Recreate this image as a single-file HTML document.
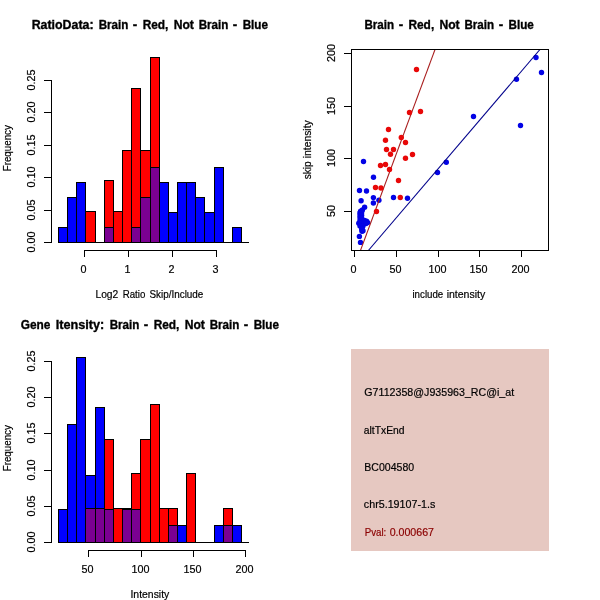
<!DOCTYPE html>
<html lang="en">
<head>
<meta charset="utf-8">
<title>Brain vs Not Brain</title>
<style>
html,body{margin:0;padding:0;background:#fff;}
body{width:600px;height:600px;overflow:hidden;}
svg{display:block;}
text{font-family:"Liberation Sans",sans-serif;fill:#000;stroke:#000;stroke-width:0.2px;}
text.b{stroke-width:0.35px;}
rect{shape-rendering:crispEdges;}
</style>
</head>
<body>
<svg width="600" height="600" viewBox="0 0 600 600">
<defs><clipPath id="c2"><rect x="351" y="49" width="198" height="202"/></clipPath></defs>
<rect x="0" y="0" width="600" height="600" fill="#fff"/>
<text y="28.70" font-size="13" font-weight="bold" class="b"><tspan x="31.65" textLength="61.91" lengthAdjust="spacingAndGlyphs">RatioData:</tspan> <tspan x="98.65" textLength="29.68" lengthAdjust="spacingAndGlyphs">Brain</tspan> <tspan x="132.85" textLength="4.45" lengthAdjust="spacingAndGlyphs">-</tspan> <tspan x="142.65" textLength="25.74" lengthAdjust="spacingAndGlyphs">Red,</tspan> <tspan x="173.65" textLength="20.23" lengthAdjust="spacingAndGlyphs">Not</tspan> <tspan x="198.65" textLength="29.68" lengthAdjust="spacingAndGlyphs">Brain</tspan> <tspan x="232.85" textLength="4.45" lengthAdjust="spacingAndGlyphs">-</tspan> <tspan x="242.65" textLength="25.34" lengthAdjust="spacingAndGlyphs">Blue</tspan></text>
<rect x="58" y="242" width="191" height="1" fill="#000"/>
<rect x="58" y="227" width="10" height="16" fill="#000"/>
<rect x="59" y="228" width="8" height="14" fill="#0000ff"/>
<rect x="67" y="197" width="10" height="46" fill="#000"/>
<rect x="68" y="198" width="8" height="44" fill="#0000ff"/>
<rect x="76" y="182" width="10" height="61" fill="#000"/>
<rect x="77" y="183" width="8" height="59" fill="#0000ff"/>
<rect x="104" y="227" width="10" height="16" fill="#000"/>
<rect x="105" y="228" width="8" height="14" fill="#0000ff"/>
<rect x="131" y="227" width="10" height="16" fill="#000"/>
<rect x="132" y="228" width="8" height="14" fill="#0000ff"/>
<rect x="140" y="197" width="11" height="46" fill="#000"/>
<rect x="141" y="198" width="9" height="44" fill="#0000ff"/>
<rect x="150" y="167" width="10" height="76" fill="#000"/>
<rect x="151" y="168" width="8" height="74" fill="#0000ff"/>
<rect x="159" y="182" width="10" height="61" fill="#000"/>
<rect x="160" y="183" width="8" height="59" fill="#0000ff"/>
<rect x="168" y="212" width="10" height="31" fill="#000"/>
<rect x="169" y="213" width="8" height="29" fill="#0000ff"/>
<rect x="177" y="182" width="10" height="61" fill="#000"/>
<rect x="178" y="183" width="8" height="59" fill="#0000ff"/>
<rect x="186" y="182" width="10" height="61" fill="#000"/>
<rect x="187" y="183" width="8" height="59" fill="#0000ff"/>
<rect x="195" y="197" width="10" height="46" fill="#000"/>
<rect x="196" y="198" width="8" height="44" fill="#0000ff"/>
<rect x="204" y="212" width="11" height="31" fill="#000"/>
<rect x="205" y="213" width="9" height="29" fill="#0000ff"/>
<rect x="214" y="167" width="10" height="76" fill="#000"/>
<rect x="215" y="168" width="8" height="74" fill="#0000ff"/>
<rect x="232" y="227" width="10" height="16" fill="#000"/>
<rect x="233" y="228" width="8" height="14" fill="#0000ff"/>
<rect x="85" y="211" width="11" height="32" fill="#000"/>
<rect x="86" y="212" width="9" height="30" fill="#ff0000"/>
<rect x="104" y="180" width="10" height="63" fill="#000"/>
<rect x="105" y="181" width="8" height="61" fill="#ff0000"/>
<rect x="113" y="211" width="10" height="32" fill="#000"/>
<rect x="114" y="212" width="8" height="30" fill="#ff0000"/>
<rect x="122" y="150" width="10" height="93" fill="#000"/>
<rect x="123" y="151" width="8" height="91" fill="#ff0000"/>
<rect x="131" y="88" width="10" height="155" fill="#000"/>
<rect x="132" y="89" width="8" height="153" fill="#ff0000"/>
<rect x="140" y="150" width="11" height="93" fill="#000"/>
<rect x="141" y="151" width="9" height="91" fill="#ff0000"/>
<rect x="150" y="57" width="10" height="186" fill="#000"/>
<rect x="151" y="58" width="8" height="184" fill="#ff0000"/>
<rect x="104" y="227" width="10" height="16" fill="#000"/>
<rect x="105" y="228" width="8" height="14" fill="#7b0092"/>
<rect x="131" y="227" width="10" height="16" fill="#000"/>
<rect x="132" y="228" width="8" height="14" fill="#7b0092"/>
<rect x="140" y="197" width="11" height="46" fill="#000"/>
<rect x="141" y="198" width="9" height="44" fill="#7b0092"/>
<rect x="150" y="167" width="10" height="76" fill="#000"/>
<rect x="151" y="168" width="8" height="74" fill="#7b0092"/>
<rect x="51" y="80" width="1" height="163" fill="#000"/>
<rect x="44" y="80" width="8" height="1" fill="#000"/>
<text transform="translate(35.00,90.60) rotate(-90)" x="0" y="0" textLength="21.00" lengthAdjust="spacingAndGlyphs" font-size="11.5">0.25</text>
<rect x="44" y="112" width="8" height="1" fill="#000"/>
<text transform="translate(35.00,122.60) rotate(-90)" x="0" y="0" textLength="21.00" lengthAdjust="spacingAndGlyphs" font-size="11.5">0.20</text>
<rect x="44" y="145" width="8" height="1" fill="#000"/>
<text transform="translate(35.00,155.60) rotate(-90)" x="0" y="0" textLength="21.00" lengthAdjust="spacingAndGlyphs" font-size="11.5">0.15</text>
<rect x="44" y="177" width="8" height="1" fill="#000"/>
<text transform="translate(35.00,187.60) rotate(-90)" x="0" y="0" textLength="21.00" lengthAdjust="spacingAndGlyphs" font-size="11.5">0.10</text>
<rect x="44" y="210" width="8" height="1" fill="#000"/>
<text transform="translate(35.00,220.60) rotate(-90)" x="0" y="0" textLength="21.00" lengthAdjust="spacingAndGlyphs" font-size="11.5">0.05</text>
<rect x="44" y="242" width="8" height="1" fill="#000"/>
<text transform="translate(35.00,252.60) rotate(-90)" x="0" y="0" textLength="21.00" lengthAdjust="spacingAndGlyphs" font-size="11.5">0.00</text>
<rect x="84" y="250" width="133" height="1" fill="#000"/>
<rect x="84" y="250" width="1" height="7" fill="#000"/>
<text x="80.50" y="273.00" textLength="6.00" lengthAdjust="spacingAndGlyphs" font-size="11.5">0</text>
<rect x="128" y="250" width="1" height="7" fill="#000"/>
<text x="124.50" y="273.00" textLength="6.00" lengthAdjust="spacingAndGlyphs" font-size="11.5">1</text>
<rect x="172" y="250" width="1" height="7" fill="#000"/>
<text x="168.50" y="273.00" textLength="6.00" lengthAdjust="spacingAndGlyphs" font-size="11.5">2</text>
<rect x="216" y="250" width="1" height="7" fill="#000"/>
<text x="212.50" y="273.00" textLength="6.00" lengthAdjust="spacingAndGlyphs" font-size="11.5">3</text>
<text transform="translate(11.00,0) rotate(-90)" y="0" font-size="11.5"><tspan x="-171.35" textLength="46.27" lengthAdjust="spacingAndGlyphs">Frequency</tspan></text>
<text y="298.00" font-size="11.5"><tspan x="95.45" textLength="22.87" lengthAdjust="spacingAndGlyphs">Log2</tspan> <tspan x="122.65" textLength="22.68" lengthAdjust="spacingAndGlyphs">Ratio</tspan> <tspan x="149.45" textLength="53.92" lengthAdjust="spacingAndGlyphs">Skip/Include</tspan></text>
<text y="28.70" font-size="13" font-weight="bold" class="b"><tspan x="364.45" textLength="29.68" lengthAdjust="spacingAndGlyphs">Brain</tspan> <tspan x="398.65" textLength="4.45" lengthAdjust="spacingAndGlyphs">-</tspan> <tspan x="408.45" textLength="25.74" lengthAdjust="spacingAndGlyphs">Red,</tspan> <tspan x="439.45" textLength="20.23" lengthAdjust="spacingAndGlyphs">Not</tspan> <tspan x="464.45" textLength="29.68" lengthAdjust="spacingAndGlyphs">Brain</tspan> <tspan x="498.65" textLength="4.45" lengthAdjust="spacingAndGlyphs">-</tspan> <tspan x="508.45" textLength="25.34" lengthAdjust="spacingAndGlyphs">Blue</tspan></text>
<circle cx="536" cy="57.5" r="2.7" fill="#0303e6"/>
<circle cx="541.5" cy="72.5" r="2.7" fill="#0303e6"/>
<circle cx="516.5" cy="79.3" r="2.7" fill="#0303e6"/>
<circle cx="473.5" cy="116.5" r="2.7" fill="#0303e6"/>
<circle cx="520.5" cy="125.5" r="2.7" fill="#0303e6"/>
<circle cx="446.3" cy="162.2" r="2.7" fill="#0303e6"/>
<circle cx="437.5" cy="172.5" r="2.7" fill="#0303e6"/>
<circle cx="407.5" cy="198.3" r="2.7" fill="#0303e6"/>
<circle cx="393.5" cy="197.5" r="2.7" fill="#0303e6"/>
<circle cx="363.5" cy="161.5" r="2.7" fill="#0303e6"/>
<circle cx="373.5" cy="177.3" r="2.7" fill="#0303e6"/>
<circle cx="359.5" cy="190.5" r="2.7" fill="#0303e6"/>
<circle cx="366.5" cy="191" r="2.7" fill="#0303e6"/>
<circle cx="373.4" cy="197.6" r="2.7" fill="#0303e6"/>
<circle cx="361.1" cy="200.8" r="2.7" fill="#0303e6"/>
<circle cx="373.4" cy="203" r="2.7" fill="#0303e6"/>
<circle cx="378.9" cy="200.3" r="2.7" fill="#0303e6"/>
<circle cx="364.6" cy="207.3" r="2.7" fill="#0303e6"/>
<circle cx="359.4" cy="236.4" r="2.7" fill="#0303e6"/>
<circle cx="360.5" cy="242.4" r="2.7" fill="#0303e6"/>
<circle cx="362.4" cy="210" r="2.7" fill="#0303e6"/>
<circle cx="360.6" cy="211.3" r="2.7" fill="#0303e6"/>
<circle cx="360" cy="212.8" r="2.7" fill="#0303e6"/>
<circle cx="361.6" cy="212.8" r="2.7" fill="#0303e6"/>
<circle cx="360" cy="215" r="2.7" fill="#0303e6"/>
<circle cx="361.6" cy="215.3" r="2.7" fill="#0303e6"/>
<circle cx="360" cy="217.5" r="2.7" fill="#0303e6"/>
<circle cx="361.6" cy="218" r="2.7" fill="#0303e6"/>
<circle cx="360" cy="220.5" r="2.7" fill="#0303e6"/>
<circle cx="362" cy="220.5" r="2.7" fill="#0303e6"/>
<circle cx="364.5" cy="220.5" r="2.7" fill="#0303e6"/>
<circle cx="366.6" cy="221.3" r="2.7" fill="#0303e6"/>
<circle cx="367.7" cy="222.6" r="2.7" fill="#0303e6"/>
<circle cx="358.8" cy="223.3" r="2.7" fill="#0303e6"/>
<circle cx="361" cy="223.5" r="2.7" fill="#0303e6"/>
<circle cx="364" cy="223.3" r="2.7" fill="#0303e6"/>
<circle cx="366" cy="223.5" r="2.7" fill="#0303e6"/>
<circle cx="360" cy="226" r="2.7" fill="#0303e6"/>
<circle cx="363" cy="226" r="2.7" fill="#0303e6"/>
<circle cx="362" cy="228.5" r="2.7" fill="#0303e6"/>
<circle cx="363" cy="230.8" r="2.7" fill="#0303e6"/>
<circle cx="362" cy="231.2" r="2.7" fill="#0303e6"/>
<circle cx="361.8" cy="229.5" r="2.7" fill="#0303e6"/>
<g clip-path="url(#c2)">
<line x1="540.4" y1="49" x2="367.9" y2="251" stroke="#00008b" stroke-width="1.05"/>
<line x1="435.2" y1="49" x2="360.3" y2="251" stroke="#a81c1c" stroke-width="1.05"/>
</g>
<circle cx="416.5" cy="69.5" r="2.7" fill="#e80808"/>
<circle cx="409.5" cy="112.5" r="2.7" fill="#e80808"/>
<circle cx="420.5" cy="111.5" r="2.7" fill="#e80808"/>
<circle cx="388.5" cy="129.5" r="2.7" fill="#e80808"/>
<circle cx="401.3" cy="137.5" r="2.7" fill="#e80808"/>
<circle cx="385.5" cy="140.3" r="2.7" fill="#e80808"/>
<circle cx="405.5" cy="142.5" r="2.7" fill="#e80808"/>
<circle cx="386.5" cy="149.5" r="2.7" fill="#e80808"/>
<circle cx="393.5" cy="149.5" r="2.7" fill="#e80808"/>
<circle cx="390.5" cy="154.3" r="2.7" fill="#e80808"/>
<circle cx="412.5" cy="154.5" r="2.7" fill="#e80808"/>
<circle cx="405.5" cy="158.3" r="2.7" fill="#e80808"/>
<circle cx="380.5" cy="165.5" r="2.7" fill="#e80808"/>
<circle cx="385.5" cy="164.5" r="2.7" fill="#e80808"/>
<circle cx="389.5" cy="169.5" r="2.7" fill="#e80808"/>
<circle cx="398.5" cy="180.5" r="2.7" fill="#e80808"/>
<circle cx="375.5" cy="187.5" r="2.7" fill="#e80808"/>
<circle cx="381" cy="188" r="2.7" fill="#e80808"/>
<circle cx="400.3" cy="197.5" r="2.7" fill="#e80808"/>
<circle cx="376.5" cy="211.5" r="2.7" fill="#e80808"/>
<rect x="351" y="49" width="198" height="1" fill="#000"/>
<rect x="351" y="250" width="198" height="1" fill="#000"/>
<rect x="351" y="49" width="1" height="202" fill="#000"/>
<rect x="548" y="49" width="1" height="202" fill="#000"/>
<rect x="344" y="53" width="8" height="1" fill="#000"/>
<text transform="translate(335.00,62.10) rotate(-90)" x="0" y="0" textLength="18.00" lengthAdjust="spacingAndGlyphs" font-size="11.5">200</text>
<rect x="344" y="106" width="8" height="1" fill="#000"/>
<text transform="translate(335.00,115.10) rotate(-90)" x="0" y="0" textLength="18.00" lengthAdjust="spacingAndGlyphs" font-size="11.5">150</text>
<rect x="344" y="158" width="8" height="1" fill="#000"/>
<text transform="translate(335.00,167.10) rotate(-90)" x="0" y="0" textLength="18.00" lengthAdjust="spacingAndGlyphs" font-size="11.5">100</text>
<rect x="344" y="211" width="8" height="1" fill="#000"/>
<text transform="translate(335.00,217.10) rotate(-90)" x="0" y="0" textLength="12.00" lengthAdjust="spacingAndGlyphs" font-size="11.5">50</text>
<rect x="354" y="250" width="1" height="7" fill="#000"/>
<text x="350.50" y="273.00" textLength="6.00" lengthAdjust="spacingAndGlyphs" font-size="11.5">0</text>
<rect x="396" y="250" width="1" height="7" fill="#000"/>
<text x="389.50" y="273.00" textLength="12.00" lengthAdjust="spacingAndGlyphs" font-size="11.5">50</text>
<rect x="438" y="250" width="1" height="7" fill="#000"/>
<text x="428.50" y="273.00" textLength="18.00" lengthAdjust="spacingAndGlyphs" font-size="11.5">100</text>
<rect x="479" y="250" width="1" height="7" fill="#000"/>
<text x="469.50" y="273.00" textLength="18.00" lengthAdjust="spacingAndGlyphs" font-size="11.5">150</text>
<rect x="521" y="250" width="1" height="7" fill="#000"/>
<text x="511.50" y="273.00" textLength="18.00" lengthAdjust="spacingAndGlyphs" font-size="11.5">200</text>
<text transform="translate(311.00,0) rotate(-90)" y="0" font-size="11.5"><tspan x="-179.25" textLength="17.86" lengthAdjust="spacingAndGlyphs">skip</tspan> <tspan x="-158.25" textLength="37.95" lengthAdjust="spacingAndGlyphs">intensity</tspan></text>
<text y="298.00" font-size="11.5"><tspan x="412.45" textLength="30.85" lengthAdjust="spacingAndGlyphs">include</tspan> <tspan x="446.65" textLength="38.64" lengthAdjust="spacingAndGlyphs">intensity</tspan></text>
<text y="328.70" font-size="13" font-weight="bold" class="b"><tspan x="20.65" textLength="29.71" lengthAdjust="spacingAndGlyphs">Gene</tspan> <tspan x="55.65" textLength="48.67" lengthAdjust="spacingAndGlyphs">Itensity:</tspan> <tspan x="109.65" textLength="29.68" lengthAdjust="spacingAndGlyphs">Brain</tspan> <tspan x="143.85" textLength="4.45" lengthAdjust="spacingAndGlyphs">-</tspan> <tspan x="153.65" textLength="25.74" lengthAdjust="spacingAndGlyphs">Red,</tspan> <tspan x="184.65" textLength="20.23" lengthAdjust="spacingAndGlyphs">Not</tspan> <tspan x="209.65" textLength="29.68" lengthAdjust="spacingAndGlyphs">Brain</tspan> <tspan x="243.85" textLength="4.45" lengthAdjust="spacingAndGlyphs">-</tspan> <tspan x="253.65" textLength="25.34" lengthAdjust="spacingAndGlyphs">Blue</tspan></text>
<rect x="58" y="542" width="191" height="1" fill="#000"/>
<rect x="58" y="509" width="10" height="34" fill="#000"/>
<rect x="59" y="510" width="8" height="32" fill="#0000ff"/>
<rect x="67" y="424" width="10" height="119" fill="#000"/>
<rect x="68" y="425" width="8" height="117" fill="#0000ff"/>
<rect x="76" y="357" width="10" height="186" fill="#000"/>
<rect x="77" y="358" width="8" height="184" fill="#0000ff"/>
<rect x="85" y="475" width="11" height="68" fill="#000"/>
<rect x="86" y="476" width="9" height="66" fill="#0000ff"/>
<rect x="95" y="407" width="10" height="136" fill="#000"/>
<rect x="96" y="408" width="8" height="134" fill="#0000ff"/>
<rect x="104" y="509" width="10" height="34" fill="#000"/>
<rect x="105" y="510" width="8" height="32" fill="#0000ff"/>
<rect x="122" y="509" width="10" height="34" fill="#000"/>
<rect x="123" y="510" width="8" height="32" fill="#0000ff"/>
<rect x="131" y="509" width="10" height="34" fill="#000"/>
<rect x="132" y="510" width="8" height="32" fill="#0000ff"/>
<rect x="168" y="525" width="10" height="18" fill="#000"/>
<rect x="169" y="526" width="8" height="16" fill="#0000ff"/>
<rect x="177" y="525" width="10" height="18" fill="#000"/>
<rect x="178" y="526" width="8" height="16" fill="#0000ff"/>
<rect x="214" y="525" width="10" height="18" fill="#000"/>
<rect x="215" y="526" width="8" height="16" fill="#0000ff"/>
<rect x="223" y="525" width="10" height="18" fill="#000"/>
<rect x="224" y="526" width="8" height="16" fill="#0000ff"/>
<rect x="232" y="525" width="10" height="18" fill="#000"/>
<rect x="233" y="526" width="8" height="16" fill="#0000ff"/>
<rect x="85" y="508" width="11" height="35" fill="#000"/>
<rect x="86" y="509" width="9" height="33" fill="#ff0000"/>
<rect x="95" y="508" width="10" height="35" fill="#000"/>
<rect x="96" y="509" width="8" height="33" fill="#ff0000"/>
<rect x="104" y="439" width="10" height="104" fill="#000"/>
<rect x="105" y="440" width="8" height="102" fill="#ff0000"/>
<rect x="113" y="508" width="10" height="35" fill="#000"/>
<rect x="114" y="509" width="8" height="33" fill="#ff0000"/>
<rect x="122" y="508" width="10" height="35" fill="#000"/>
<rect x="123" y="509" width="8" height="33" fill="#ff0000"/>
<rect x="131" y="473" width="10" height="70" fill="#000"/>
<rect x="132" y="474" width="8" height="68" fill="#ff0000"/>
<rect x="140" y="439" width="11" height="104" fill="#000"/>
<rect x="141" y="440" width="9" height="102" fill="#ff0000"/>
<rect x="150" y="404" width="10" height="139" fill="#000"/>
<rect x="151" y="405" width="8" height="137" fill="#ff0000"/>
<rect x="159" y="508" width="10" height="35" fill="#000"/>
<rect x="160" y="509" width="8" height="33" fill="#ff0000"/>
<rect x="168" y="508" width="10" height="35" fill="#000"/>
<rect x="169" y="509" width="8" height="33" fill="#ff0000"/>
<rect x="186" y="473" width="10" height="70" fill="#000"/>
<rect x="187" y="474" width="8" height="68" fill="#ff0000"/>
<rect x="223" y="508" width="10" height="35" fill="#000"/>
<rect x="224" y="509" width="8" height="33" fill="#ff0000"/>
<rect x="85" y="508" width="11" height="35" fill="#000"/>
<rect x="86" y="509" width="9" height="33" fill="#7b0092"/>
<rect x="95" y="508" width="10" height="35" fill="#000"/>
<rect x="96" y="509" width="8" height="33" fill="#7b0092"/>
<rect x="104" y="509" width="10" height="34" fill="#000"/>
<rect x="105" y="510" width="8" height="32" fill="#7b0092"/>
<rect x="122" y="509" width="10" height="34" fill="#000"/>
<rect x="123" y="510" width="8" height="32" fill="#7b0092"/>
<rect x="131" y="509" width="10" height="34" fill="#000"/>
<rect x="132" y="510" width="8" height="32" fill="#7b0092"/>
<rect x="168" y="525" width="10" height="18" fill="#000"/>
<rect x="169" y="526" width="8" height="16" fill="#7b0092"/>
<rect x="223" y="525" width="10" height="18" fill="#000"/>
<rect x="224" y="526" width="8" height="16" fill="#7b0092"/>
<rect x="51" y="361" width="1" height="182" fill="#000"/>
<rect x="44" y="361" width="8" height="1" fill="#000"/>
<text transform="translate(35.00,371.60) rotate(-90)" x="0" y="0" textLength="21.00" lengthAdjust="spacingAndGlyphs" font-size="11.5">0.25</text>
<rect x="44" y="397" width="8" height="1" fill="#000"/>
<text transform="translate(35.00,407.60) rotate(-90)" x="0" y="0" textLength="21.00" lengthAdjust="spacingAndGlyphs" font-size="11.5">0.20</text>
<rect x="44" y="433" width="8" height="1" fill="#000"/>
<text transform="translate(35.00,443.60) rotate(-90)" x="0" y="0" textLength="21.00" lengthAdjust="spacingAndGlyphs" font-size="11.5">0.15</text>
<rect x="44" y="470" width="8" height="1" fill="#000"/>
<text transform="translate(35.00,480.60) rotate(-90)" x="0" y="0" textLength="21.00" lengthAdjust="spacingAndGlyphs" font-size="11.5">0.10</text>
<rect x="44" y="506" width="8" height="1" fill="#000"/>
<text transform="translate(35.00,516.60) rotate(-90)" x="0" y="0" textLength="21.00" lengthAdjust="spacingAndGlyphs" font-size="11.5">0.05</text>
<rect x="44" y="542" width="8" height="1" fill="#000"/>
<text transform="translate(35.00,552.60) rotate(-90)" x="0" y="0" textLength="21.00" lengthAdjust="spacingAndGlyphs" font-size="11.5">0.00</text>
<rect x="88" y="550" width="158" height="1" fill="#000"/>
<rect x="88" y="550" width="1" height="7" fill="#000"/>
<text x="81.50" y="573.00" textLength="12.00" lengthAdjust="spacingAndGlyphs" font-size="11.5">50</text>
<rect x="141" y="550" width="1" height="7" fill="#000"/>
<text x="131.50" y="573.00" textLength="18.00" lengthAdjust="spacingAndGlyphs" font-size="11.5">100</text>
<rect x="193" y="550" width="1" height="7" fill="#000"/>
<text x="183.50" y="573.00" textLength="18.00" lengthAdjust="spacingAndGlyphs" font-size="11.5">150</text>
<rect x="245" y="550" width="1" height="7" fill="#000"/>
<text x="235.50" y="573.00" textLength="18.00" lengthAdjust="spacingAndGlyphs" font-size="11.5">200</text>
<text transform="translate(11.00,0) rotate(-90)" y="0" font-size="11.5"><tspan x="-471.35" textLength="46.27" lengthAdjust="spacingAndGlyphs">Frequency</tspan></text>
<text y="598.00" font-size="11.5"><tspan x="130.45" textLength="38.86" lengthAdjust="spacingAndGlyphs">Intensity</tspan></text>
<rect x="351" y="349" width="198" height="202" fill="#e6c8c1"/>
<text y="396.00" font-size="11.5"><tspan x="364.35" textLength="149.82" lengthAdjust="spacingAndGlyphs">G7112358@J935963_RC@i_at</tspan></text>
<text y="434.00" font-size="11.5"><tspan x="363.85" textLength="40.71" lengthAdjust="spacingAndGlyphs">altTxEnd</tspan></text>
<text y="471.00" font-size="11.5"><tspan x="364.35" textLength="49.78" lengthAdjust="spacingAndGlyphs">BC004580</tspan></text>
<text y="508.00" font-size="11.5"><tspan x="363.85" textLength="71.47" lengthAdjust="spacingAndGlyphs">chr5.19107-1.s</tspan></text>
<text y="536.00" font-size="11.5" style="fill:#8b0000;stroke:#8b0000"><tspan x="364.65" textLength="21.65" lengthAdjust="spacingAndGlyphs">Pval:</tspan> <tspan x="389.65" textLength="44.37" lengthAdjust="spacingAndGlyphs">0.000667</tspan></text>
</svg>
</body>
</html>
